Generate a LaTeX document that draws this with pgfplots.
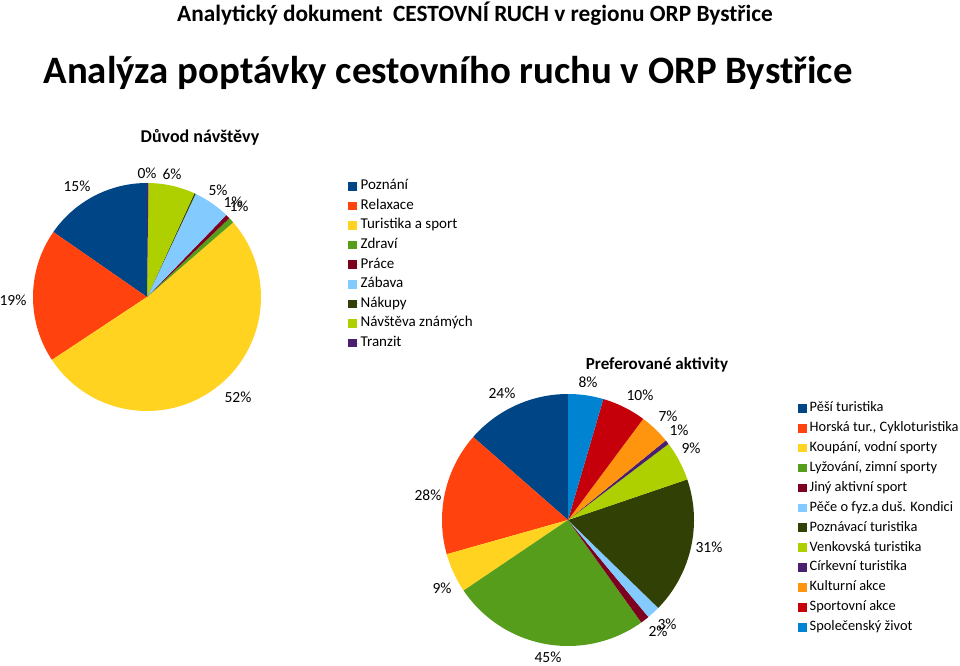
\documentclass[border=0pt]{standalone}
\usepackage{fontspec}
\setmainfont{Carlito}
\usepackage{pgfplots}
\usepackage{pgfplotstable}
\pgfplotsset{compat=1.18}

\definecolor{c1}{HTML}{004586}
\definecolor{c2}{HTML}{FF420E}
\definecolor{c3}{HTML}{FFD320}
\definecolor{c4}{HTML}{579D1C}
\definecolor{c5}{HTML}{7E0021}
\definecolor{c6}{HTML}{83CAFF}
\definecolor{c7}{HTML}{314004}
\definecolor{c8}{HTML}{AECF00}
\definecolor{c9}{HTML}{4B1F6F}
\definecolor{c10}{HTML}{FF950E}
\definecolor{c11}{HTML}{C5000B}
\definecolor{c12}{HTML}{0084D1}

% Pie 1: Duvod navstevy (values in %, label position relative to centre)
\pgfplotstableread{
name value col lab lx ly
{Poznání} 15.3 c1 {15\%} -70 111
{Relaxace} 18.9 c2 {19\%} -134 -3
{Turistika a sport} 51.9 c3 {52\%} 91 -100
{Zdraví} 0.8 c4 {1\%} 92 91
{Práce} 0.6 c5 {1\%} 86 95
{Zábava} 5.2 c6 {5\%} 71 107
{Nákupy} 0.2 c7 {} 0 0
{Návštěva známých} 6.6 c8 {6\%} 25 123
{Tranzit} 0.2 c9 {0\%} 0 124
}\pieA

% Pie 2: Preferovane aktivity (values in %, label position relative to centre)
\pgfplotstableread{
name value col lab lx ly
{Pěší turistika} 24 c1 {24\%} -66 127
{Horská tur., Cykloturistika} 28 c2 {28\%} -140 25
{Koupání, vodní sporty} 9 c3 {9\%} -126 -68
{Lyžování, zimní sporty} 45 c4 {45\%} -20 -137
{Jiný aktivní sport} 2 c5 {2\%} 90 -111
{Pěče o fyz.a duš. Kondici} 3 c6 {3\%} 99 -104
{Poznávací turistika} 31 c7 {31\%} 141 -27
{Venkovská turistika} 9 c8 {9\%} 123 72
{Církevní turistika} 1 c9 {1\%} 111 90
{Kulturní akce} 7 c10 {7\%} 100 104
{Sportovní akce} 10 c11 {10\%} 72 125
{Společenský život} 8 c12 {8\%} 20 138
}\pieB

\newcommand\drawpie[2]{%
  \pgfplotstablegetrowsof{#1}%
  \pgfmathtruncatemacro\pLast{\pgfplotsretval-1}%
  \def\pTot{0}%
  \pgfplotsforeachungrouped \pI in {0,...,\pLast}{%
    \pgfplotstablegetelem{\pI}{value}\of{#1}%
    \pgfmathsetmacro\pTot{\pTot+\pgfplotsretval}}%
  \def\pCum{0}%
  \pgfplotsforeachungrouped \pI in {0,...,\pLast}{%
    \pgfplotstablegetelem{\pI}{value}\of{#1}\let\pV\pgfplotsretval
    \pgfplotstablegetelem{\pI}{col}\of{#1}\let\pC\pgfplotsretval
    \pgfplotstablegetelem{\pI}{name}\of{#1}\let\pN\pgfplotsretval
    \pgfplotstablegetelem{\pI}{lab}\of{#1}\let\pL\pgfplotsretval
    \pgfplotstablegetelem{\pI}{lx}\of{#1}\let\pX\pgfplotsretval
    \pgfplotstablegetelem{\pI}{ly}\of{#1}\let\pY\pgfplotsretval
    \pgfmathsetmacro\pA{90+\pCum/\pTot*360}%
    \pgfmathsetmacro\pCum{\pCum+\pV}%
    \pgfmathsetmacro\pB{90+\pCum/\pTot*360}%
    \edef\pCmd{%
      \noexpand\addplot[fill=\pC, draw=none, domain=\pA:\pB, samples=60, variable=\noexpand\t]
        ({#2*cos(\noexpand\t)},{#2*sin(\noexpand\t)}) -- (axis cs:0,0) -- cycle;
      \noexpand\addlegendentry{\pN}
      \noexpand\node[font=\noexpand\fontsize{15.5}{18}\noexpand\selectfont, inner sep=0pt] at (axis cs:\pX,\pY) {\pL};
    }%
    \pCmd
  }%
}

\begin{document}
\begin{tikzpicture}[x=1pt,y=1pt]
\fill[white] (0,0) rectangle (960,665);

% titles
\node[font=\fontsize{23.3}{26}\selectfont\bfseries] at (475,651) {Analytický dokument\ \ CESTOVNÍ RUCH v regionu ORP Bystřice};
\node[font=\fontsize{38.8}{44}\selectfont\bfseries] at (448,592) {Analýza poptávky cestovního ruchu v ORP Bystřice};
\node[font=\fontsize{18}{21}\selectfont\bfseries] at (200,528) {Důvod návštěvy};
\node[font=\fontsize{17}{20}\selectfont\bfseries] at (657,300) {Preferované aktivity};

\begin{axis}[
  at={(147pt,368pt)}, anchor=origin,
  x=1pt, y=1pt,
  xmin=-120, xmax=120, ymin=-120, ymax=120,
  hide axis, clip=false,
  legend cell align=left,
  legend image code/.code={\fill[#1] (0pt,-4.3pt) rectangle (8.8pt,4.3pt); \path (0pt,0pt) -- (10.5pt,0pt);},
  legend style={at={(axis cs:201,118)}, anchor=north west, draw=none, fill=none,
    font=\fontsize{15}{17}\selectfont, row sep=5.3pt, inner sep=0pt,
    nodes={inner xsep=2pt, inner ysep=1pt, text height=9.5pt, text depth=2.8pt}},
]
\drawpie{\pieA}{114}
\end{axis}

\begin{axis}[
  at={(568pt,145pt)}, anchor=origin,
  x=1pt, y=1pt,
  xmin=-130, xmax=130, ymin=-130, ymax=130,
  hide axis, clip=false,
  legend cell align=left,
  legend image code/.code={\fill[#1] (0pt,-4.3pt) rectangle (8.8pt,4.3pt); \path (0pt,0pt) -- (9.5pt,0pt);},
  legend style={at={(axis cs:230,119)}, anchor=north west, draw=none, fill=none,
    font=\fontsize{14.4}{17}\selectfont, row sep=5.6pt, inner sep=0pt,
    nodes={inner xsep=2pt, inner ysep=1pt, text height=9.5pt, text depth=2.8pt}},
]
\drawpie{\pieB}{126}
\end{axis}

\pgfresetboundingbox
\path[use as bounding box] (0,0) rectangle (960,665);
\end{tikzpicture}
\end{document}
